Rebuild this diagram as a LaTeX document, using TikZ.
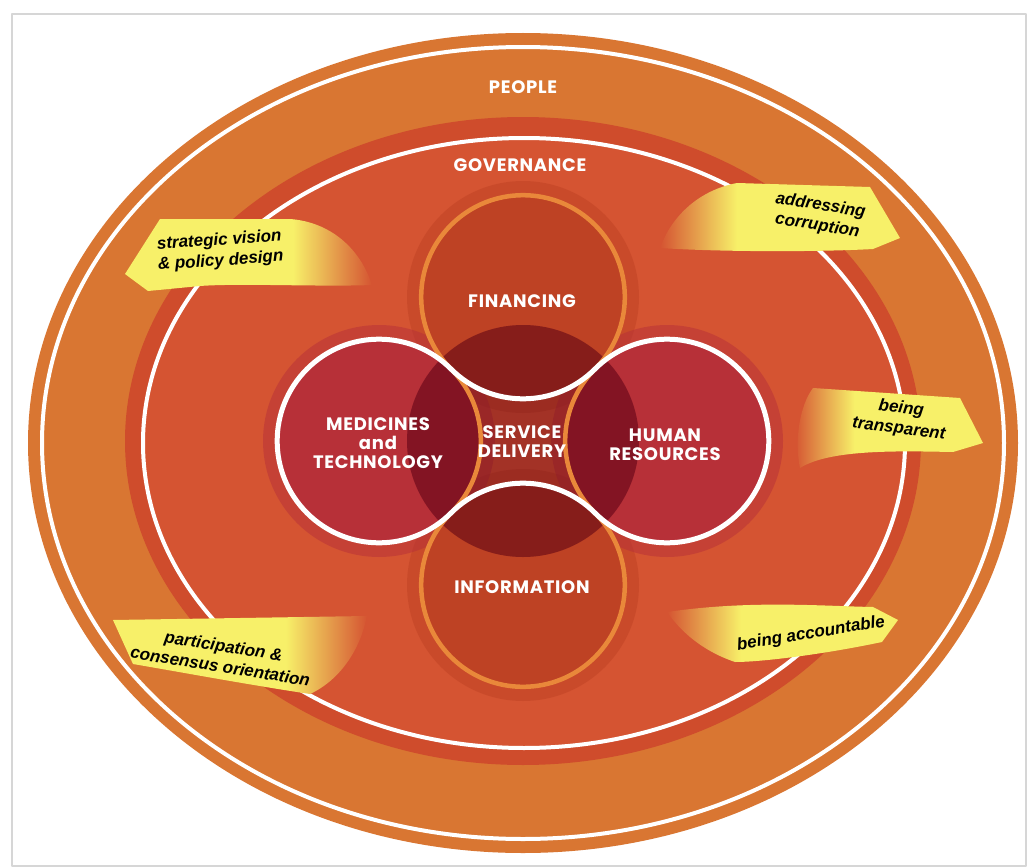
\documentclass[tikz,border=0pt]{standalone}
\usepackage{fontspec}
\newfontfamily\capsfont{Poppins}[LetterSpace=4]
\newfontfamily\notefont{Liberation Sans}

\definecolor{people}{RGB}{217,118,50}
\definecolor{govband}{RGB}{207,76,44}
\definecolor{gov}{RGB}{213,84,50}
\definecolor{finfill}{RGB}{190,66,36}
\definecolor{medfill}{RGB}{183,48,56}
\definecolor{sdfill}{RGB}{90,0,20}
\definecolor{ringorange}{RGB}{233,136,58}
\definecolor{callout}{RGB}{247,240,105}
\definecolor{framegray}{RGB}{214,214,214}

\pgfdeclarehorizontalshading{fadeleft}{100bp}{color(0bp)=(gov); color(25bp)=(gov); color(41bp)=(callout); color(100bp)=(callout)}
\pgfdeclarehorizontalshading{faderight}{100bp}{color(0bp)=(callout); color(59bp)=(callout); color(75bp)=(gov); color(100bp)=(gov)}

\tikzset{
  halo/.style={fill=#1, fill opacity=0.5},
  capslabel/.style={text=white, font=\capsfont\bfseries\fontsize{18}{19}\selectfont, align=center},
  notelabel/.style={text=black, font=\notefont\bfseries\itshape\fontsize{17}{20.5}\selectfont, align=center},
  whiteline/.style={draw=white, line width=5pt},
  orangeline/.style={draw=ringorange, line width=4.5pt}
}

\begin{document}
\begin{tikzpicture}[x=1pt, y=-1pt, line join=round, line cap=round]
    \fill[white] (0,0) rectangle (1029,867);
    \useasboundingbox (0,0) rectangle (1029,867);
    \draw[framegray, line width=1.5pt] (12,14) rectangle (1026,866);

    % 1. Outer ring (People)
    \fill[people] (523,443) ellipse (495 and 410);
    \draw[white, line width=4pt] (523,443) ellipse (481 and 396);

    % 2. Governance ring
    \fill[govband] (523,441) ellipse (398 and 324);
    \fill[gov] (524,443) ellipse (381 and 305);
    \draw[white, line width=4pt] (524,443) ellipse (381 and 305);

    % 3. Centres of the building blocks
    \def\rr{101.82}
    \coordinate (C) at (523,441);
    \coordinate (F) at (523,297); % financing
    \coordinate (I) at (523,585); % information
    \coordinate (M) at (379,441); % medicines
    \coordinate (H) at (667,441); % human resources

    % halos and discs
    \foreach \c/\col in {F/finfill, I/finfill, M/medfill, H/medfill}
        \fill[halo=\col] (\c) circle (116);
    \foreach \c/\col in {F/finfill, I/finfill, M/medfill, H/medfill}
        \fill[\col] (\c) circle (102);
    \fill[sdfill, fill opacity=0.4] (C) circle (116);
    \begin{scope}
        \clip (C) circle (116);
        \foreach \c in {F, I, M, H}
            \fill[sdfill, fill opacity=0.25] (\c) circle (102);
    \end{scope}

    % 4. Interlaced rings
    \draw[orangeline] (I) ++(-45:\rr)
        arc[start angle=-45, end angle=225, radius=\rr]
        arc[start angle=45, end angle=-45, radius=\rr]
        arc[start angle=135, end angle=405, radius=\rr]
        arc[start angle=225, end angle=135, radius=\rr] -- cycle;
    \draw[whiteline] (M) ++(45:\rr)
        arc[start angle=45, end angle=315, radius=\rr]
        arc[start angle=135, end angle=45, radius=\rr]
        arc[start angle=225, end angle=495, radius=\rr]
        arc[start angle=315, end angle=225, radius=\rr] -- cycle;

    % 5. Callouts
    \shade[shading=faderight] (125,274) -- (160,219) -- (290,219)
        .. controls (330,222) and (360,248) .. (372,285)
        .. controls (320,287) and (240,283) .. (200,286) -- (148,291) -- cycle;
    \shade[shading=fadeleft] (900,238) -- (870,187) -- (737,183)
        .. controls (700,190) and (672,215) .. (660,248)
        .. controls (720,252) and (820,252) .. (873,249) -- cycle;
    \shade[shading=fadeleft] (813,388) -- (960,398) -- (983,443) -- (953,452)
        .. controls (900,451) and (830,449) .. (800,468)
        .. controls (794,440) and (800,405) .. (813,388) -- cycle;
    \shade[shading=fadeleft] (667,612) .. controls (750,600) and (820,606) .. (873,607)
        -- (898,620) -- (882,642)
        .. controls (820,655) and (760,662) .. (735,662)
        .. controls (700,650) and (680,630) .. (667,612) -- cycle;
    \shade[shading=faderight] (113,620) -- (367,616)
        .. controls (360,650) and (340,680) .. (310,694)
        .. controls (250,685) and (180,672) .. (133,664) -- cycle;

    % 6. Labels
    \node[capslabel] (people) at (523,87) {PEOPLE};
    \node[capslabel] (governance) at (520,165) {GOVERNANCE};
    \node[capslabel] (financing) at (522,301) {FINANCING};
    \node[capslabel] (information) at (522,587) {INFORMATION};
    \node[capslabel] (medicines) at (378,443) {MEDICINES\\and\\TECHNOLOGY};
    \node[capslabel] (humanres) at (665,445) {HUMAN\\RESOURCES};
    \node[capslabel] (service) at (522,442) {SERVICE\\DELIVERY};

    \node[notelabel, rotate=4] (vision) at (220,251) {strategic vision\\\& policy design};
    \node[notelabel, rotate=-9] (corruption) at (819,216) {addressing\\corruption};
    \node[notelabel, rotate=-7] (transparent) at (900,419) {being\\transparent};
    \node[notelabel, rotate=9] (accountable) at (811,634) {being accountable};
    \node[notelabel, rotate=-9] (participation) at (222,656) {participation \&\\consensus orientation};
\end{tikzpicture}
\end{document}
